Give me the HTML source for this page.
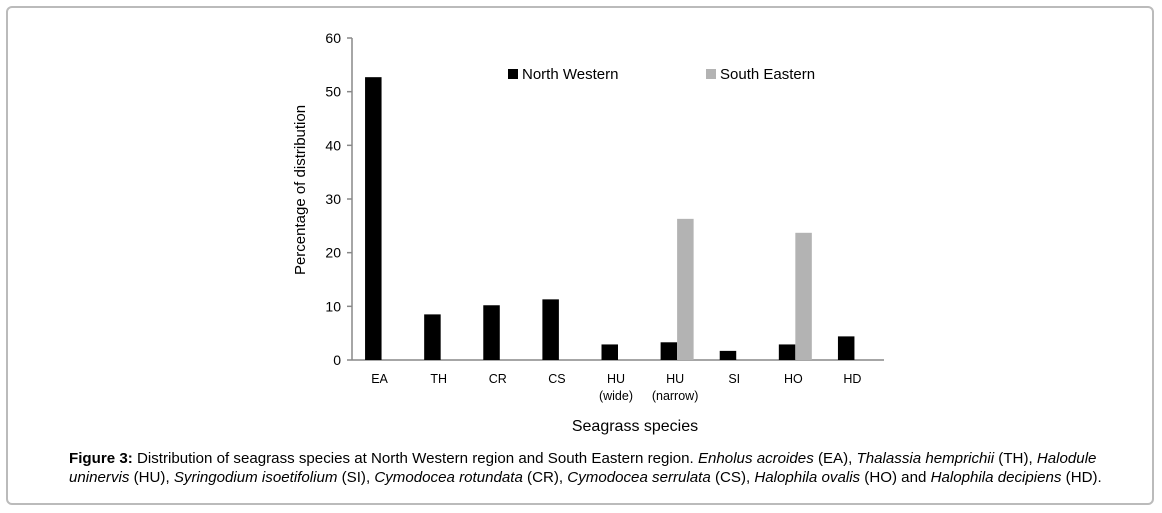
<!DOCTYPE html>
<html><head><meta charset="utf-8"><style>
body{margin:0;width:1162px;height:513px;background:#fff;overflow:hidden;font-family:"Liberation Sans",Arial,sans-serif}
#frame{position:absolute;left:6px;top:6px;width:1148px;height:499px;border:2px solid #bbb;border-radius:6px;box-sizing:border-box}
#cap{position:absolute;left:69px;top:449px;width:1060px;font-size:15.1px;line-height:19px;color:#000}
</style></head><body>
<div id="frame"></div>
<svg id="chart" width="1162" height="445" style="position:absolute;left:0;top:0" font-family="Liberation Sans, DejaVu Sans, sans-serif"></svg>
<div id="cap"><b>Figure 3:</b> Distribution of seagrass species at North Western region and South Eastern region. <i>Enholus acroides</i> (EA), <i>Thalassia hemprichii</i> (TH), <i>Halodule</i> <i>uninervis</i> (HU), <i>Syringodium isoetifolium</i> (SI), <i>Cymodocea rotundata</i> (CR), <i>Cymodocea serrulata</i> (CS), <i>Halophila ovalis</i> (HO) and <i>Halophila decipiens</i> (HD).</div>
<script>
const categories=[["EA"],["TH"],["CR"],["CS"],["HU","(wide)"],["HU","(narrow)"],["SI"],["HO"],["HD"]];
const northWestern=[52.7,8.5,10.2,11.3,2.9,3.3,1.7,2.9,4.4];
const southEastern=[0,0,0,0,0,26.3,0,23.7,0];
const yTicks=[0,10,20,30,40,50,60];
const svg=document.getElementById('chart');
const NS='http://www.w3.org/2000/svg';
const X0=352,X1=884,Y0=360,Y1=38,YMAX=60;
const cw=(X1-X0)/categories.length;
const y=v=>Y0-(v/YMAX)*(Y0-Y1);
const cx=i=>X0+cw*(i+0.5);
function mk(t,a,txt){const e=document.createElementNS(NS,t);for(const k in a)e.setAttribute(k,a[k]);if(txt!==undefined)e.textContent=txt;svg.appendChild(e);return e;}
let e;
e=mk('line',{x1:X0,y1:Y1,x2:X0,y2:Y0,stroke:'#888','stroke-width':1.5});

e=mk('line',{x1:X0,y1:Y0,x2:X1,y2:Y0,stroke:'#888','stroke-width':1.5});

yTicks.forEach(t=>{
 e=mk('line',{x1:X0-5,y1:y(t),x2:X0,y2:y(t),stroke:'#888','stroke-width':1.5});
 
 e=mk('text',{x:X0-11,y:y(t)+5,'text-anchor':'end','font-size':14,fill:'#000'},t);
 
});
const bw=16.5;
categories.forEach((c,i)=>{
 if(northWestern[i]>0){e=mk('rect',{x:cx(i)-bw,y:y(northWestern[i]),width:bw,height:Y0-y(northWestern[i]),fill:'#000'});
 }
 if(southEastern[i]>0){e=mk('rect',{x:cx(i),y:y(southEastern[i]),width:bw,height:Y0-y(southEastern[i]),fill:'#b3b3b3'});
 }
 c.forEach((l,j)=>{e=mk('text',{x:cx(i)-2,y:383+j*17,'text-anchor':'middle','font-size':12.5,fill:'#000'},l);
 });
});
e=mk('text',{x:635,y:431,'text-anchor':'middle','font-size':16,fill:'#000'},'Seagrass species');

e=mk('text',{x:0,y:0,'text-anchor':'middle','font-size':15,fill:'#000',transform:'translate(305,190) rotate(-90)'},'Percentage of distribution');

e=mk('rect',{x:508,y:69,width:10,height:10,fill:'#000'});

e=mk('text',{x:522,y:79,'font-size':15,fill:'#000'},'North Western');

e=mk('rect',{x:706,y:69,width:10,height:10,fill:'#b3b3b3'});

e=mk('text',{x:720,y:79,'font-size':15,fill:'#000'},'South Eastern');

</script>
</body></html>
